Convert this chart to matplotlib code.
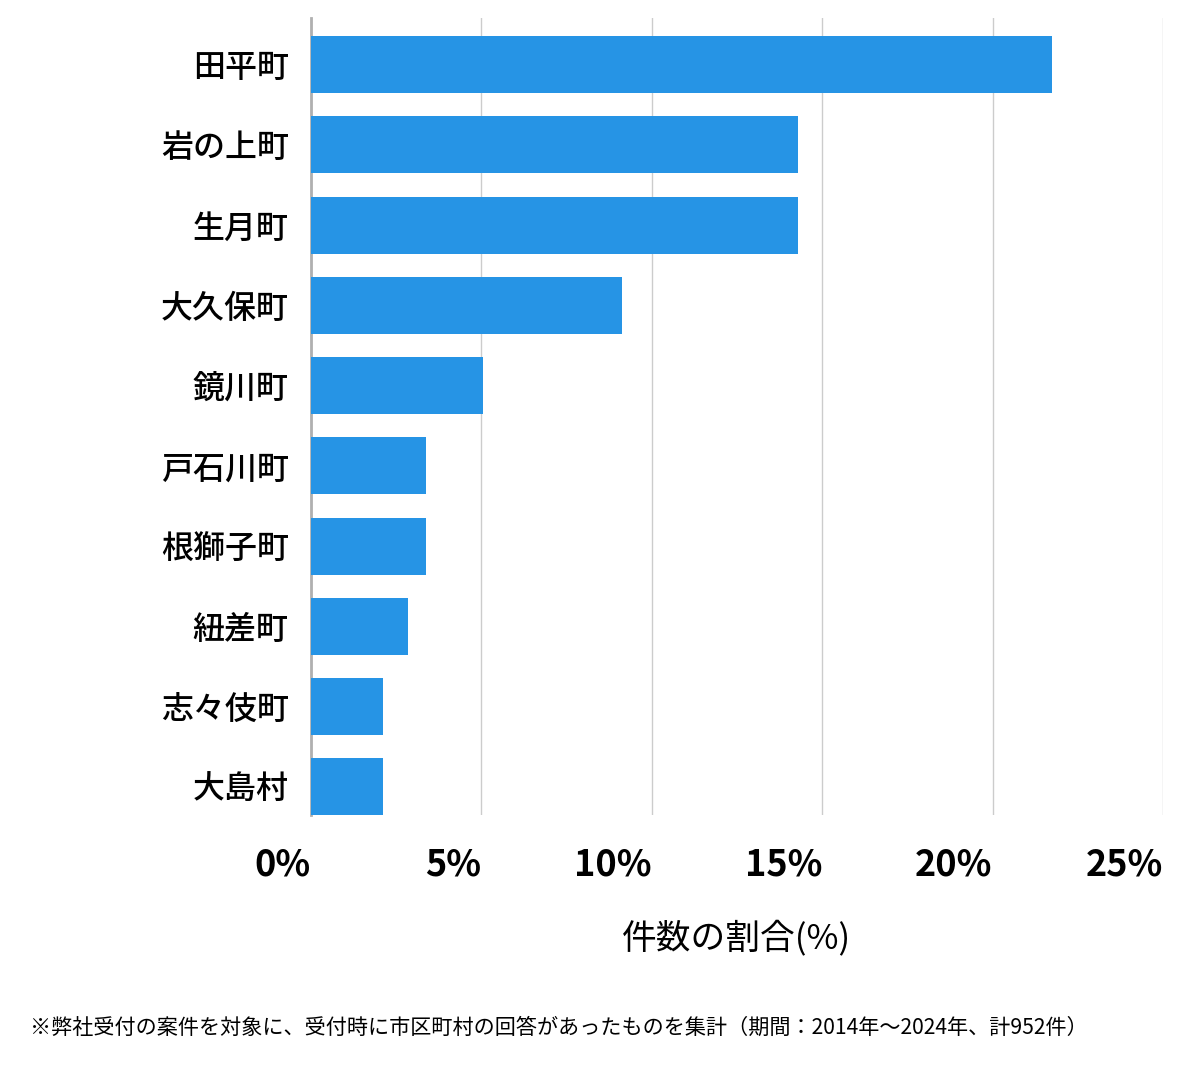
import matplotlib
matplotlib.use("Agg")
import matplotlib.pyplot as plt

plt.rcParams['font.family'] = ['Noto Sans CJK JP', 'DejaVu Sans']

# 町名と件数の割合(%)
towns = ['田平町', '岩の上町', '生月町', '大久保町', '鏡川町',
         '戸石川町', '根獅子町', '紐差町', '志々伎町', '大島村']
shares = [21.74, 14.29, 14.29, 9.14, 5.04, 3.36, 3.36, 2.84, 2.10, 2.10]
xticks = [0, 5, 10, 15, 20, 25]
xtick_labels = ['0%', '5%', '10%', '15%', '20%', '25%']
note = '※弊社受付の案件を対象に、受付時に市区町村の回答があったものを集計（期間：2014年～2024年、計952件）'

fig = plt.figure(figsize=(12, 10.69), dpi=100)
ax = fig.add_axes([311/1200, 1 - 815/1069, (1163-311)/1200, (815-18)/1069])

ypos = list(range(len(towns)))
ax.barh(ypos, shares, height=0.71, color='#2694e5', zorder=3)

ax.set_xlim(0, 25)
ax.set_ylim(9.35, -0.58)
ax.set_yticks(ypos)
ax.set_yticklabels(towns, fontsize=23, fontweight='medium')
ax.set_xticks(xticks)
ax.set_xticklabels(xtick_labels, fontsize=26, fontweight='bold', ha='right')
ax.tick_params(axis='y', length=0, pad=16)
ax.tick_params(axis='x', length=0, pad=23)

ax.grid(axis='x', color='#cccccc', linewidth=1, zorder=0)
for s in ['top', 'right', 'bottom']:
    ax.spines[s].set_visible(False)
ax.spines['left'].set_color('#b0b0b0')
ax.spines['left'].set_linewidth(2)

ax.set_xlabel('件数の割合(%)', fontsize=25, labelpad=26)

fig.text(30/1200, 1 - 1028/1069, note, fontsize=15.2, va='center', ha='left')

fig.savefig('out.png', dpi=100)
